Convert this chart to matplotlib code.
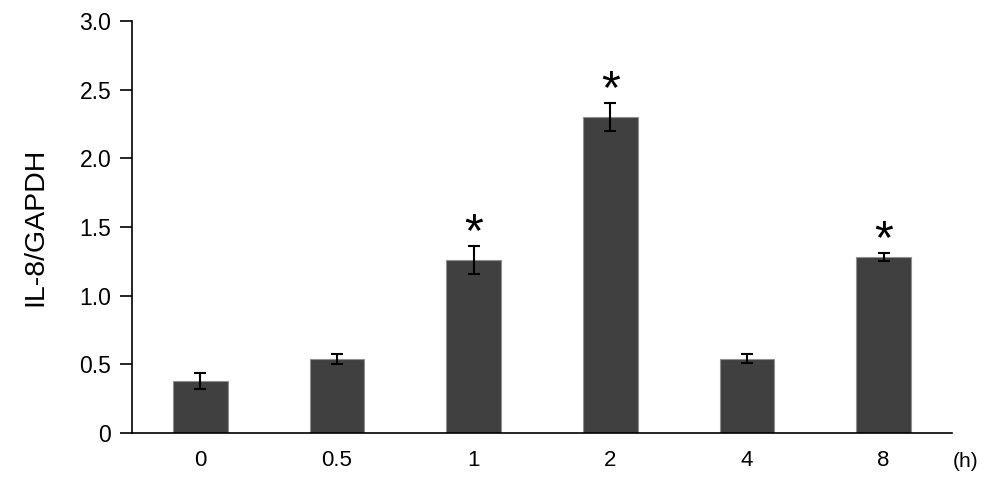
import numpy as np
import matplotlib
matplotlib.use("Agg")
import matplotlib.pyplot as plt

plt.rcParams['font.family'] = ['Liberation Sans', 'DejaVu Sans']

# data
times = ["0", "0.5", "1", "2", "4", "8"]
ratio = [0.38, 0.54, 1.26, 2.30, 0.54, 1.28]
sem = [0.06, 0.037, 0.10, 0.105, 0.033, 0.03]
signif = [False, False, True, True, False, True]

fig = plt.figure(figsize=(10, 4.87), dpi=100)
ax = fig.add_axes([0.132, 0.111, 0.82, 0.846])

x = np.arange(len(times))
ax.bar(x, ratio, width=0.4, color="#404040", edgecolor="#909090", linewidth=0.8, zorder=2)
ax.errorbar(x, ratio, yerr=sem, fmt="none", ecolor="black", elinewidth=1.5,
            capsize=4.5, capthick=1.5, zorder=3)

# asterisks above significant bars
for xi, v, e, s in zip(x, ratio, sem, signif):
    if s:
        ax.annotate("*", (xi, v + e), xytext=(0, 0), textcoords="offset points",
                    ha="center", va="baseline", fontsize=35)

ax.set_xlim(-0.5, 5.5)
ax.set_ylim(0, 3.0)
ax.set_yticks([0, 0.5, 1.0, 1.5, 2.0, 2.5, 3.0])
ax.set_yticklabels(["0", "0.5", "1.0", "1.5", "2.0", "2.5", "3.0"])
ax.set_xticks(x)
ax.set_xticklabels(times)
ax.tick_params(axis="x", length=0, pad=12, labelsize=16)
ax.tick_params(axis="y", length=9, width=1.2, labelsize=16.5, pad=6)
ax.spines["top"].set_visible(False)
ax.spines["right"].set_visible(False)
ax.spines["left"].set_linewidth(1.2)
ax.spines["bottom"].set_linewidth(1.2)
ax.set_ylabel("IL-8/GAPDH", fontsize=20.5, labelpad=22)

ax.text(1.001, -0.07, "(h)", transform=ax.transAxes, fontsize=15, ha="left", va="center")

fig.savefig("out.png", dpi=100)
